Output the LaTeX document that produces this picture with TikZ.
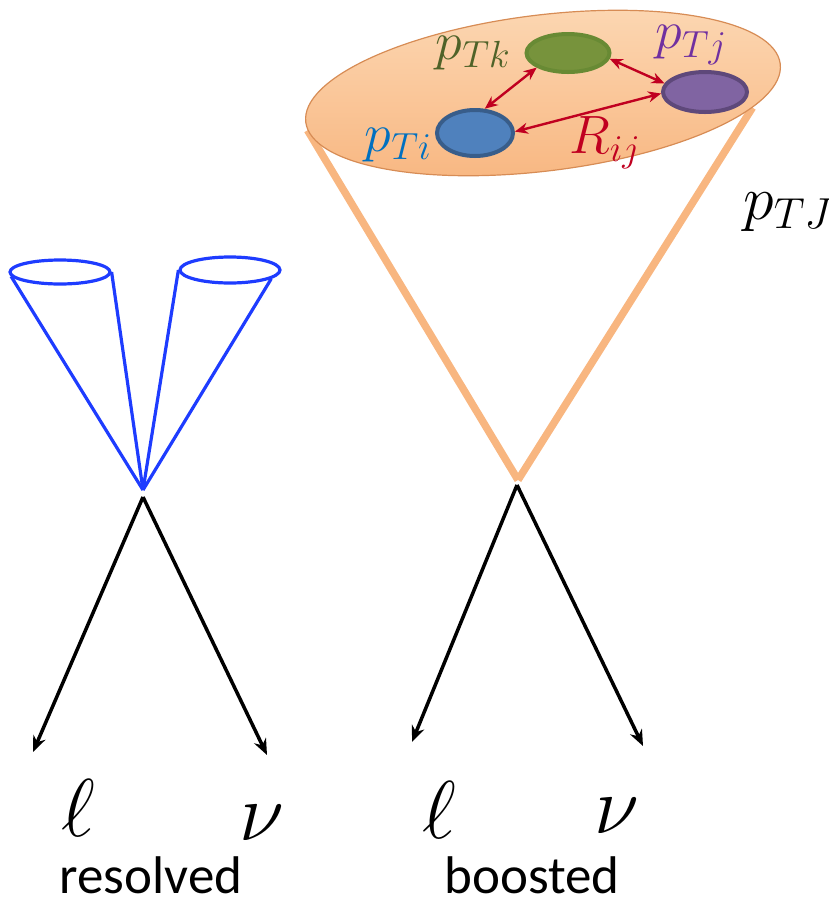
\RequirePackage{fix-cm}
\documentclass[tikz,border=0pt]{standalone}
\usepackage{fontspec}
\setmainfont{Carlito}
\usetikzlibrary{shapes.geometric,arrows.meta,backgrounds}

\definecolor{coneblue}{RGB}{30,60,255}
\definecolor{jetorange}{RGB}{248,182,128}
\definecolor{jetlight}{RGB}{252,216,180}
\definecolor{jetedge}{RGB}{215,140,85}
\definecolor{pairred}{RGB}{192,0,32}
\definecolor{kgreen}{RGB}{119,147,60}
\definecolor{kgreenedge}{RGB}{104,138,52}
\definecolor{kgreentext}{RGB}{79,98,40}
\definecolor{jpurple}{RGB}{128,100,162}
\definecolor{jpurpleedge}{RGB}{94,72,122}
\definecolor{jpurpletext}{RGB}{112,48,160}
\definecolor{iblue}{RGB}{79,129,189}
\definecolor{iblueedge}{RGB}{56,93,138}
\definecolor{ibluetext}{RGB}{0,112,192}

\begin{document}
\begin{tikzpicture}[x=1pt, y=-1pt,
    conering/.style={ellipse, draw=coneblue, line width=3.2pt, inner sep=0pt, minimum width=100pt, minimum height=#1},
    conerim/.style={coneblue, line width=3.2pt},
    jetblob/.style={ellipse, draw=jetedge, line width=1.2pt, top color=jetlight, bottom color=jetorange, inner sep=0pt, minimum width=478pt, minimum height=156pt, rotate=7},
    jetline/.style={jetorange, line width=7.5pt},
    subjet/.style={ellipse, line width=4pt, inner sep=0pt},
    pairarrow/.style={{Stealth[length=13pt,width=11pt]}-{Stealth[length=13pt,width=11pt]}, pairred, line width=2.4pt},
    decay/.style={-{Stealth[length=16pt,width=13pt]}, line width=3.5pt},
    bigmath/.style={font=\fontsize{82}{90}\selectfont, anchor=base},
    ptlabel/.style={font=\fontsize{54}{60}\selectfont, text=#1},
    casetext/.style={font=\fontsize{53}{60}\selectfont, anchor=base}
]
    \useasboundingbox (0,0) rectangle (829,906);

    % Resolved: two narrow jets
    \coordinate (apexR) at (143,490);
    \node[conering=24pt] (coneL) at (60,272) {};
    \node[conering=26pt] (coneR) at (230,270) {};
    \draw[conerim] (coneL.185) -- (apexR);
    \draw[conerim] (coneL.east) -- (apexR);
    \draw[conerim] (coneR.west) -- (apexR);
    \draw[conerim] (coneR.348) -- (apexR);

    \coordinate (vtxR) at (143,497);
    \coordinate (lepR) at (33,752);
    \coordinate (nuR) at (267,755);
    \draw[decay] (vtxR) -- (lepR);
    \draw[decay] (vtxR) -- (nuR);

    \node[bigmath] (ellRlabel) at (78,836) {$\ell$};
    \node[bigmath] (nuRlabel) at (262,840) {$\nu$};
    \node[casetext] (resolved) at (151,893) {resolved};

    % Boosted: one fat jet with subjets
    \node[jetblob] (jet) at (543,93) {};
    \coordinate (apexB) at (518,480);
    \begin{scope}[on background layer]
        \draw[jetline] (jet.182) -- (apexB);
        \draw[jetline] (jet.-11) -- (apexB);
    \end{scope}

    \node[subjet, draw=kgreenedge, fill=kgreen, minimum width=83pt, minimum height=38pt] (sjk) at (568,53) {};
    \node[subjet, draw=jpurpleedge, fill=jpurple, minimum width=84pt, minimum height=40pt] (sjj) at (705,92) {};
    \node[subjet, draw=iblueedge, fill=iblue, minimum width=76pt, minimum height=46pt] (sji) at (475,133) {};

    \draw[pairarrow] (sjk.205) -- (sji.68);
    \draw[pairarrow] (sjk.-8) -- (sjj.168);
    \draw[pairarrow] (sji.2) -- (sjj.182);

    \node[ptlabel=kgreentext] (ptk) at (473,53) {$p_{Tk}$};
    \node[ptlabel=jpurpletext] (ptj) at (691,45) {$p_{Tj}$};
    \node[ptlabel=ibluetext] (pti) at (398,145) {$p_{Ti}$};
    \node[ptlabel=pairred] (rij) at (605,143) {$R_{ij}$};
    \node[font=\fontsize{62}{70}\selectfont] (ptJ) at (788,212) {$p_{TJ}$};

    \coordinate (vtxB) at (517,485);
    \coordinate (lepB) at (412,742);
    \coordinate (nuB) at (643,746);
    \draw[decay] (vtxB) -- (lepB);
    \draw[decay] (vtxB) -- (nuB);

    \node[bigmath] (ellBlabel) at (439,838) {$\ell$};
    \node[bigmath] (nuBlabel) at (617,833) {$\nu$};
    \node[casetext] (boosted) at (532,893) {boosted};

\end{tikzpicture}
\end{document}
